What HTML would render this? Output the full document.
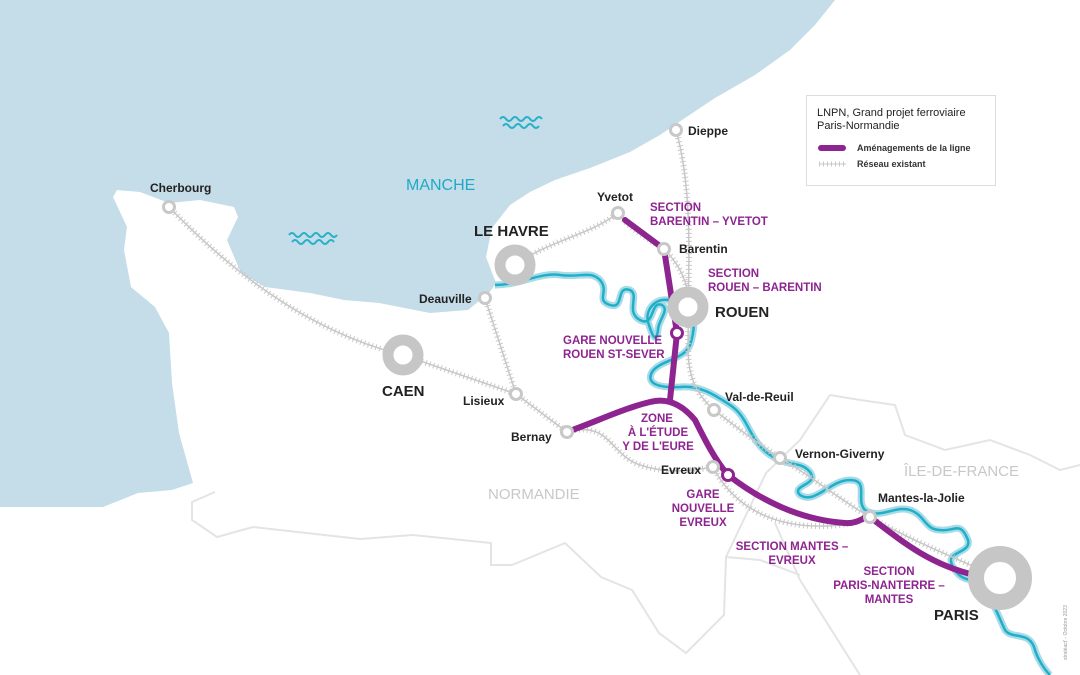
<!DOCTYPE html>
<html><head><meta charset="utf-8"><style>
html,body{margin:0;padding:0;background:#fff;}
svg{display:block;}
text{font-family:"Liberation Sans",sans-serif;}
.st{font-size:12px;font-weight:bold;fill:#222;}
.big{font-size:15px;font-weight:bold;fill:#222;}
.pu{font-size:11.5px;font-weight:bold;fill:#8e2490;}
</style></head><body>
<svg width="1080" height="675" viewBox="0 0 1080 675" xmlns="http://www.w3.org/2000/svg">
<rect width="1080" height="675" fill="#fff"/>
<path fill="#c4dde8" d="M0,0 L835,0 L815,25 L790,50 L755,75 L715,98 L685,118 L660,135 L630,152 L590,168 L555,180 L530,192 L510,205 L492,228 L486,257 L496,283 L489,293 L468,310 L430,313 L379,303 L344,300 L310,293 L265,287 L241,273 L227,240 L238,217 L234,207 L200,200 L169,203 L140,192 L117,190 L113,197 L127,227 L124,250 L131,287 L155,307 L169,333 L172,383 L179,433 L193,483 L172,490 L138,493 L103,507 L0,507 Z"/>
<g fill="none" stroke="#e4e4e4" stroke-width="2">
<path d="M215,492 L192,502 L192,520 L217,537 L253,527 L360,539 L413,535 L491,543 L491,565 L512,565 L565,543 L601,577 L632,590 L659,633 L686,653 L724,615 L726,557 L766,473 L800,440 L830,395"/>
<path d="M775,523 L800,580 L846,653 L860,675"/>
<path d="M830,395 L860,400 L895,405 L905,435 L945,450 L990,440 L1030,455 L1060,470 L1080,465"/>
<path d="M726,557 L760,560 L800,575"/>
</g>
<g fill="none" stroke="#2bb0c9" stroke-width="2">
<path d="M500,119 q3,-4 6,0 q3,4 6,0 q3,-4 6,0 q3,4 6,0 q3,-4 6,0 q3,4 6,0 q3,-4 6,0"/>
<path d="M503,126 q3,-4 6,0 q3,4 6,0 q3,-4 6,0 q3,4 6,0 q3,-4 6,0 q3,4 6,0"/>
<path d="M289,235 q3,-4 6,0 q3,4 6,0 q3,-4 6,0 q3,4 6,0 q3,-4 6,0 q3,4 6,0 q3,-4 6,0 q3,4 6,0"/>
<path d="M292,242 q3,-4 6,0 q3,4 6,0 q3,-4 6,0 q3,4 6,0 q3,-4 6,0 q3,4 6,0 q3,-4 6,0"/>
</g>
<g fill="none" stroke-linecap="round" stroke-linejoin="round">
<path id="seine" d="M495,285 C520,285 540,272 560,275 C580,278 590,270 600,280 C610,292 595,300 610,305 C625,310 615,285 630,290 C640,295 625,312 640,320 C655,328 650,300 662,305 C670,310 658,320 658,330 C656,345 652,335 648,322 C645,310 655,298 668,300 C700,302 695,330 690,345 C684,360 660,360 652,372 C645,385 662,388 680,387 C700,385 715,395 730,405 C750,418 748,440 770,455 C790,468 800,460 810,472 C820,485 790,485 800,495 C815,505 830,480 850,480 C870,480 855,500 865,510 C880,520 895,505 910,510 C925,515 925,530 940,530 C955,532 960,520 968,540 C972,555 940,550 955,570 C965,585 975,575 985,590 C995,605 1000,620 1005,630 C1012,640 1030,630 1035,650 C1038,660 1045,670 1050,675"/>
</g>
<use href="#seine" stroke="#a8dbe8" stroke-width="7" fill="none"/>
<use href="#seine" stroke="#1fb0c8" stroke-width="2.5" fill="none"/>
<g fill="none" stroke-linecap="round">
<path id="r1" d="M169,207 C220,260 300,330 403,355"/>
<path id="r2" d="M403,355 L516,394"/>
<path id="r3" d="M485,298 L516,394"/>
<path id="r4" d="M516,394 L567,432"/>
<path id="r5" d="M567,432 C610,420 610,455 640,465 C670,475 695,470 713,467"/>
<path id="r6" d="M515,265 C550,240 590,235 618,213"/>
<path id="r7" d="M618,213 C630,230 650,240 664,249 C680,265 690,285 688,307"/>
<path id="r8" d="M676,130 C690,180 690,240 688,307"/>
<path id="r9" d="M688,307 C690,350 680,380 714,410 C740,430 760,445 780,458 C810,475 840,500 870,517 C910,540 960,560 1000,578"/>
<path id="r10" d="M713,467 C730,500 760,520 800,525 C830,528 850,525 870,517"/>
</g>
<g fill="none" stroke="#c8c8c8">
<use href="#r1" stroke-width="1.5"/><use href="#r2" stroke-width="1.5"/><use href="#r3" stroke-width="1.5"/><use href="#r4" stroke-width="1.5"/><use href="#r5" stroke-width="1.5"/><use href="#r6" stroke-width="1.5"/><use href="#r7" stroke-width="1.5"/><use href="#r8" stroke-width="1.5"/><use href="#r9" stroke-width="1.5"/><use href="#r10" stroke-width="1.5"/>
</g>
<g fill="none" stroke="#c8c8c8" stroke-width="6" stroke-dasharray="1 3">
<use href="#r1"/><use href="#r2"/><use href="#r3"/><use href="#r4"/><use href="#r5"/><use href="#r6"/><use href="#r7"/><use href="#r8"/><use href="#r9"/><use href="#r10"/>
</g>
<g fill="none" stroke="#8e2490" stroke-width="6" stroke-linecap="round" stroke-linejoin="round">
<path d="M625,220 L664,249 L677,333 L670,400"/>
<path d="M567,432 C600,420 625,408 650,402 C665,398 680,402 695,420 C705,440 715,460 728,475 C760,500 800,520 845,523 C860,524 865,515 870,517 C900,540 930,565 975,575"/>
</g>
<g fill="#fff" stroke="#c8c8c8" stroke-width="3">
<circle cx="169" cy="207" r="5.5"/><circle cx="676" cy="130" r="5.5"/><circle cx="618" cy="213" r="5.5"/>
<circle cx="664" cy="249" r="5.5"/><circle cx="485" cy="298" r="5.5"/><circle cx="516" cy="394" r="5.5"/>
<circle cx="567" cy="432" r="5.5"/><circle cx="713" cy="467" r="5.5"/><circle cx="714" cy="410" r="5.5"/>
<circle cx="780" cy="458" r="5.5"/><circle cx="870" cy="517" r="5.5"/>
</g>
<g fill="#fff" stroke="#c6c6c6">
<circle cx="515" cy="265" r="15" stroke-width="11"/>
<circle cx="403" cy="355" r="15" stroke-width="11"/>
<circle cx="688" cy="307" r="15" stroke-width="11"/>
<circle cx="1000" cy="578" r="24" stroke-width="16"/>
</g>
<g fill="#fff" stroke="#8e2490" stroke-width="3">
<circle cx="677" cy="333" r="5.5"/><circle cx="728" cy="475" r="5.5"/>
</g>
<text x="406" y="190" font-size="16" fill="#1fa9c6">MANCHE</text>
<text x="488" y="499" font-size="15" fill="#c8c8c8">NORMANDIE</text>
<text x="904" y="476" font-size="15" fill="#c8c8c8">ÎLE-DE-FRANCE</text>
<text class="st" x="150" y="192">Cherbourg</text>
<text class="st" x="688" y="135">Dieppe</text>
<text class="st" x="597" y="201">Yvetot</text>
<text class="st" x="679" y="253">Barentin</text>
<text class="st" x="419" y="303">Deauville</text>
<text class="st" x="463" y="405">Lisieux</text>
<text class="st" x="511" y="441">Bernay</text>
<text class="st" x="661" y="474">Evreux</text>
<text class="st" x="725" y="401">Val-de-Reuil</text>
<text class="st" x="795" y="458">Vernon-Giverny</text>
<text class="st" x="878" y="502">Mantes-la-Jolie</text>
<text class="big" x="474" y="236">LE HAVRE</text>
<text class="big" x="715" y="317">ROUEN</text>
<text class="big" x="382" y="396">CAEN</text>
<text class="big" x="934" y="620">PARIS</text>
<text class="pu" x="650" y="211">SECTION</text>
<text class="pu" x="650" y="225">BARENTIN – YVETOT</text>
<text class="pu" x="708" y="277">SECTION</text>
<text class="pu" x="708" y="291">ROUEN – BARENTIN</text>
<text class="pu" x="563" y="344">GARE NOUVELLE</text>
<text class="pu" x="563" y="358">ROUEN ST-SEVER</text>
<g text-anchor="middle">
<text class="pu" x="657" y="422">ZONE</text>
<text class="pu" x="658" y="436">À L'ÉTUDE</text>
<text class="pu" x="658" y="450">Y DE L'EURE</text>
<text class="pu" x="703" y="498">GARE</text>
<text class="pu" x="703" y="512">NOUVELLE</text>
<text class="pu" x="703" y="526">EVREUX</text>
<text class="pu" x="792" y="550">SECTION MANTES –</text>
<text class="pu" x="792" y="564">EVREUX</text>
<text class="pu" x="889" y="575">SECTION</text>
<text class="pu" x="889" y="589">PARIS-NANTERRE –</text>
<text class="pu" x="889" y="603">MANTES</text>
</g>
<text x="0" y="0" font-size="5" fill="#999" transform="translate(1067,660) rotate(-90)">stratéact' - Octobre 2023</text>
<rect x="806.5" y="95.5" width="189" height="90" fill="#fff" stroke="#dcdcdc"/>
<text x="817" y="116" font-size="11" fill="#222">LNPN, Grand projet ferroviaire</text>
<text x="817" y="129" font-size="11" fill="#222">Paris-Normandie</text>
<line x1="821" y1="148" x2="843" y2="148" stroke="#8e2490" stroke-width="6" stroke-linecap="round"/>
<text x="857" y="151" font-size="9" font-weight="bold" fill="#333">Aménagements de la ligne</text>
<line x1="819" y1="164" x2="846" y2="164" stroke="#c8c8c8" stroke-width="1"/>
<line x1="819" y1="164" x2="846" y2="164" stroke="#c8c8c8" stroke-width="5" stroke-dasharray="1 3"/>
<text x="857" y="167" font-size="9" font-weight="bold" fill="#333">Réseau existant</text>
</svg>
</body></html>
